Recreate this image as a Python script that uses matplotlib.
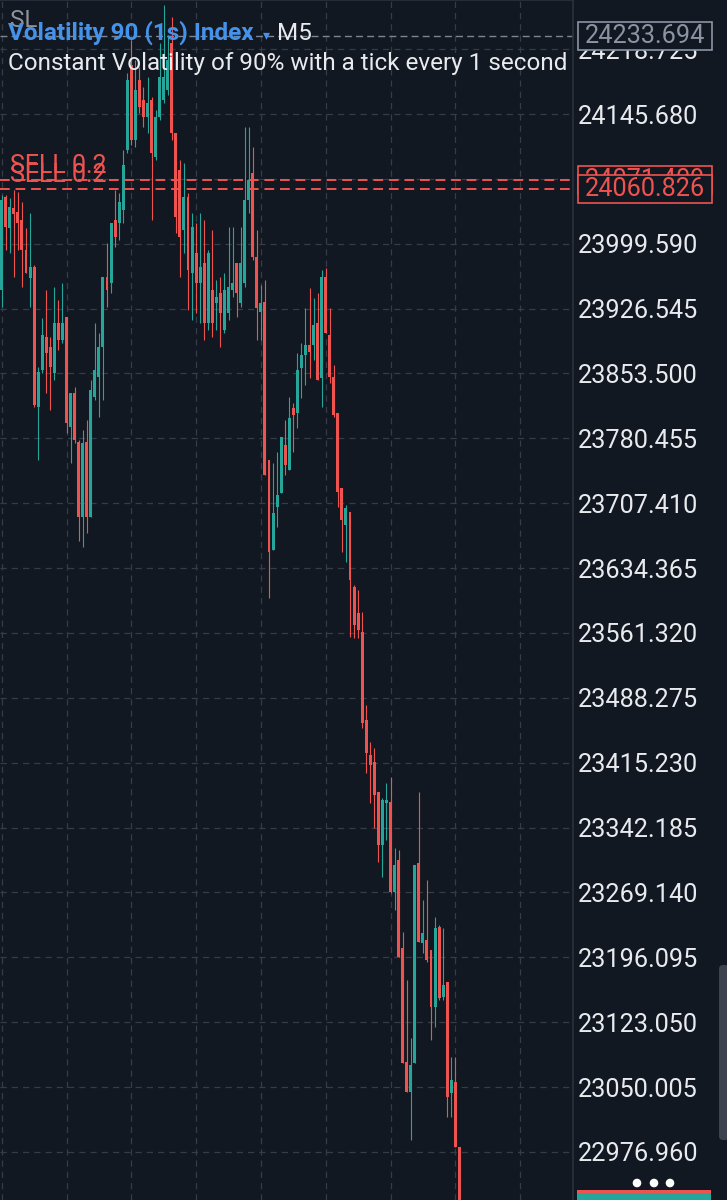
import matplotlib
matplotlib.use("Agg")
import matplotlib.pyplot as plt
from matplotlib.patches import Rectangle, FancyBboxPatch, Circle
import numpy as np

W, H = 727, 1200

# M5 candles, oldest first
opens = [23947.5, 24052.2, 24017.3, 24039.8, 24035.3, 24026.3, 23992.5, 23961.0, 23973.4, 23815.7,
         23857.4, 23894.5, 23883.3, 23854.0, 23910.3, 23891.2, 23917.1, 23793.2, 23831.5, 23776.3,
         23691.9, 23776.3, 23691.9, 23827.0, 23849.5, 23883.3, 23962.1, 23955.3, 24026.3, 24022.9,
         24037.5, 24105.1, 24200.8, 24116.4, 24183.9, 24161.4, 24142.3, 24161.4, 24097.2, 24142.3,
         24161.4, 24172.7, 24225.6, 24124.2, 24082.6, 24015.0, 24052.2, 23966.6, 23989.1, 23955.3,
         23977.9, 23910.3, 23947.5, 23932.8, 23944.1, 23902.4, 23921.6, 23947.5, 23977.9, 23932.8,
         23955.3, 24048.8, 24079.2, 23984.6, 23922.7, 23933.9, 23756.0, 23654.7, 23703.1, 23718.9,
         23772.9, 23744.8, 23814.6, 23809.0, 23859.6, 23874.3, 23885.5, 23885.5, 23910.3, 23848.4,
         23962.1, 23896.8, 23849.5, 23809.0, 23724.5, 23682.8, 23697.5, 23613.0, 23583.8, 23562.4,
         23463.3, 23423.9, 23416.0, 23382.2, 23322.5, 23369.8, 23370.9, 23269.6, 23305.6, 23206.6,
         23078.2, 23044.4, 23077.1, 23302.3, 23212.2, 23215.6, 23204.3, 23140.1, 23230.2, 23151.4,
         23168.3, 23043.3, 23055.7, 22982.6]
highs = [24054.4, 24054.4, 24051.1, 24060.1, 24057.8, 24046.5, 24017.3, 24034.2, 23975.6, 23860.8,
         23915.9, 23947.5, 23894.5, 23950.8, 23936.2, 23955.3, 23917.1, 23831.5, 23838.2, 23778.6,
         23789.8, 23801.1, 23846.1, 23910.3, 23899.0, 23962.1, 24000.4, 24022.9, 24060.1, 24056.7,
         24105.1, 24191.8, 24229.0, 24206.4, 24198.6, 24176.0, 24187.3, 24164.8, 24150.1, 24225.6,
         24268.4, 24234.6, 24254.9, 24124.2, 24093.8, 24090.5, 24056.7, 24034.2, 24022.9, 24034.2,
         24026.3, 23992.5, 24015.0, 23958.7, 23962.1, 23966.6, 24018.4, 24018.4, 23977.9, 24018.4,
         24131.0, 24131.0, 24108.5, 24015.0, 23953.1, 23958.7, 23756.0, 23752.7, 23765.0, 23781.9,
         23801.1, 23827.0, 23820.2, 23876.5, 23887.8, 23927.2, 23949.7, 23938.5, 23944.1, 23970.0,
         23972.2, 23927.2, 23863.0, 23809.0, 23724.5, 23705.4, 23697.5, 23615.3, 23609.7, 23584.9,
         23480.2, 23438.5, 23431.8, 23382.2, 23375.5, 23392.3, 23399.1, 23319.2, 23316.9, 23224.6,
         23170.5, 23105.2, 23300.0, 23382.2, 23260.6, 23283.1, 23204.3, 23241.5, 23232.5, 23229.1,
         23168.3, 23083.8, 23083.8, 22982.6]
lows = [23928.3, 23992.5, 23989.1, 23962.1, 23992.5, 23950.8, 23966.6, 23928.3, 23815.7, 23756.0,
        23854.0, 23831.5, 23812.3, 23846.1, 23879.9, 23887.8, 23786.4, 23752.7, 23775.2, 23665.0,
        23658.1, 23673.8, 23691.9, 23823.6, 23804.5, 23823.6, 23928.3, 23944.1, 23995.9, 24003.8,
        24022.9, 24101.7, 24110.7, 24108.5, 24146.8, 24131.0, 24124.2, 24026.3, 24093.8, 24138.9,
        24158.0, 24167.0, 24116.4, 24011.6, 23962.1, 23989.1, 23924.9, 23913.7, 23921.6, 23910.3,
        23891.2, 23902.4, 23894.5, 23902.4, 23883.3, 23899.0, 23913.7, 23939.6, 23917.1, 23928.3,
        23950.8, 24034.2, 23981.2, 23891.2, 23891.2, 23739.1, 23600.7, 23654.7, 23680.6, 23718.9,
        23739.1, 23744.8, 23765.0, 23792.1, 23825.9, 23840.5, 23848.4, 23868.6, 23846.1, 23815.7,
        23899.0, 23842.7, 23804.5, 23703.1, 23652.4, 23641.2, 23556.7, 23555.6, 23555.6, 23454.3,
        23403.6, 23369.8, 23341.7, 23303.4, 23286.5, 23328.2, 23268.5, 23249.3, 23196.4, 23077.1,
        23044.4, 22990.4, 23077.1, 23213.3, 23200.9, 23190.8, 23102.9, 23117.6, 23148.0, 23148.0,
        23016.3, 23016.3, 22982.6, 22877.8]
closes = [24048.8, 24018.4, 24040.9, 24033.0, 24022.9, 23992.5, 23966.6, 23973.4, 23818.0, 23855.1,
          23896.8, 23876.5, 23860.8, 23910.3, 23891.2, 23910.3, 23797.7, 23831.5, 23778.6, 23691.9,
          23775.2, 23691.9, 23834.9, 23857.4, 23883.3, 23962.1, 23947.5, 24022.9, 24007.1, 24046.5,
          24088.2, 24183.9, 24116.4, 24172.7, 24153.5, 24142.3, 24158.0, 24101.7, 24142.3, 24187.3,
          24187.3, 24206.4, 24124.2, 24029.7, 24007.1, 24052.2, 23970.0, 24018.4, 23955.3, 23973.4,
          23910.3, 23989.1, 23910.3, 23939.6, 23921.6, 23947.5, 23950.8, 23955.3, 23944.1, 23977.9,
          24048.8, 24071.3, 23984.6, 23927.2, 23932.8, 23739.1, 23652.4, 23696.4, 23716.6, 23781.9,
          23750.4, 23803.3, 23806.7, 23857.4, 23874.3, 23885.5, 23877.6, 23908.0, 23846.1, 23962.1,
          23899.0, 23849.5, 23806.7, 23720.0, 23688.5, 23702.0, 23620.9, 23570.3, 23564.6, 23459.9,
          23426.1, 23412.6, 23378.8, 23322.5, 23373.2, 23373.2, 23269.6, 23300.0, 23196.4, 23077.1,
          23044.4, 23074.8, 23300.0, 23213.3, 23223.4, 23193.0, 23140.1, 23229.1, 23150.3, 23164.9,
          23038.8, 23057.9, 22982.6, 22889.0]

price_ticks = [22976.960, 23050.005, 23123.050, 23196.095, 23269.140, 23342.185, 23415.230,
               23488.275, 23561.320, 23634.365, 23707.410, 23780.455, 23853.500, 23926.545,
               23999.590, 24072.635, 24145.680, 24218.725]
last_price = 24233.694
sell_prices = [24071.409, 24060.826]
sell_labels = ["SELL 0.2", "SELL 0.2"]
symbol_name = "Volatility 90 (1s) Index"
timeframe = "M5"
subtitle = "Constant Volatility of 90% with a tick every 1 second"

BG = "#121821"
UP = "#26a69a"
DOWN = "#ef5350"
GRID = "#353c48"
TXT = "#e8eaee"
BLUE = "#4492ea"

plt.rcParams["font.family"] = ["Roboto", "DejaVu Sans"]

fig = plt.figure(figsize=(W / 100, H / 100), dpi=100, facecolor=BG)
ax = fig.add_axes([0, 0, 573 / W, 1])
ax.set_facecolor(BG)

x = np.arange(len(opens))
o = np.array(opens)
c = np.array(closes)
cols = np.where(c >= o, UP, DOWN)

# wicks then bodies
ax.vlines(x, lows, highs, colors=cols, linewidth=0.8, zorder=3)
ax.bar(x, np.maximum(np.abs(c - o), 1.5), bottom=np.minimum(o, c), width=0.72,
       color=cols, linewidth=0, zorder=4)

ax.set_xlim(-0.42, 141.06)
ax.set_ylim(22922.9, 24274.04)

ax.set_xticks(np.arange(0, 141, 16))
ax.set_yticks(price_ticks)
ax.set_yticklabels([f"{v:.3f}" for v in price_ticks])
ax.yaxis.tick_right()
ax.tick_params(axis="x", length=0, labelbottom=False)
ax.tick_params(axis="y", length=0, pad=3.6, labelsize=18.2, labelcolor=TXT)
ax.set_axisbelow(True)
ax.grid(True, color=GRID, linestyle=(0, (5, 4)), linewidth=0.9)
for s in ["left", "bottom"]:
    ax.spines[s].set_visible(False)
for s in ["right", "top"]:
    ax.spines[s].set_color("#2c323d")
    ax.spines[s].set_linewidth(1.2)

# current price + open SELL positions
ax.axhline(last_price, color="#7d8593", linestyle=(0, (5, 3)), linewidth=1.0, zorder=2)
for p, lbl in zip(sell_prices, sell_labels):
    ax.axhline(p, color=DOWN, linestyle=(0, (5, 3)), linewidth=1.4, zorder=5)
    ax.annotate(lbl, xy=(0, p), xycoords=("axes fraction", "data"), xytext=(10, 7),
                textcoords="offset pixels", color=DOWN, fontsize=18, va="baseline", zorder=5)

# price boxes on the axis (they overlap like in the app)
yt = ax.get_yaxis_transform()
box_h = 28 * (24274.04 - 22922.9) / H
z = 6
for p, col in [(last_price, "#8b94a3"), (sell_prices[0], DOWN), (sell_prices[1], DOWN)]:
    ax.add_patch(Rectangle((578 / 573, p - box_h / 2), 134 / 573, box_h, transform=yt,
                           facecolor=BG, edgecolor=col, linewidth=1.2, clip_on=False, zorder=z))
    ax.text(645 / 573, p, f"{p:.3f}", transform=yt, ha="center", va="center", color=col,
            fontsize=18.2, clip_on=False, zorder=z + 1)
    z += 2

# header / UI overlay in pixel coords
ov = fig.add_axes([0, 0, 1, 1])
ov.set_xlim(0, W)
ov.set_ylim(H, 0)
ov.axis("off")
ov.patch.set_alpha(0)

ov.text(10, 27, "SL", color="#8e939c", fontsize=17.5, va="baseline")
ov.text(8, 40, symbol_name, color=BLUE, fontsize=17.5, fontweight="bold", va="baseline")
ov.text(263, 39, "▾", color=BLUE, fontsize=10, va="baseline", family=["DejaVu Sans"])
ov.text(277, 40, timeframe, color=TXT, fontsize=17.5, va="baseline")
ov.text(8, 70, subtitle, color=TXT, fontsize=17.5, va="baseline")

for cx in [637, 654, 670]:
    ov.add_patch(Circle((cx, 1183), 3.6, color="white"))
ov.add_patch(Rectangle((577, 1190), 134, 3, color=DOWN, linewidth=0))
ov.add_patch(Rectangle((577, 1193), 134, 7, color=UP, linewidth=0))
ov.add_patch(FancyBboxPatch((719, 965), 10, 175, boxstyle="round,pad=0,rounding_size=4",
                            facecolor="#3d434e", edgecolor="none"))

fig.savefig("out.png", dpi=100, facecolor=BG)
